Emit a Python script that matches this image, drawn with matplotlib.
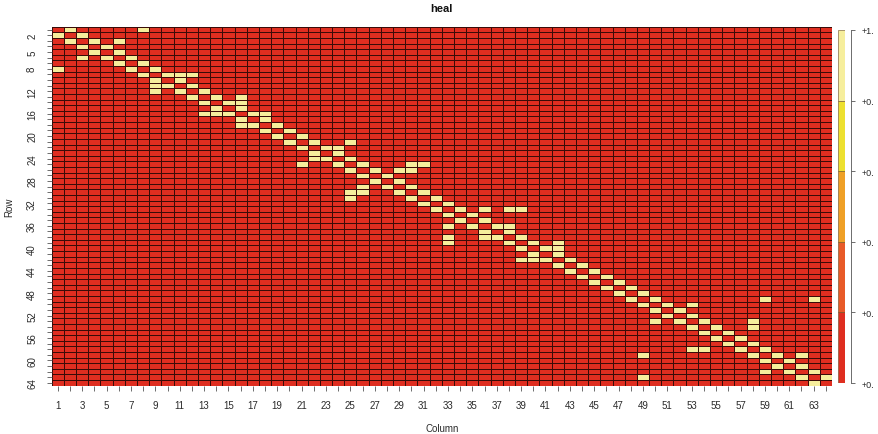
import matplotlib
matplotlib.use("Agg")
import matplotlib.pyplot as plt
import numpy as np
from matplotlib.colors import ListedColormap, BoundaryNorm

plt.rcParams['font.family'] = ['Liberation Sans', 'DejaVu Sans']

# adjacency of the "heal" graph: for each row, the columns holding a 1
neighbours = [
    [2, 8], [1, 3], [2, 4, 6], [3, 5], [4, 6], [3, 5, 7], [6, 8], [1, 7, 9],
    [8, 10, 11, 12], [9, 11], [9, 10, 12], [9, 11, 13], [12, 14, 16],
    [13, 15, 16], [14, 16], [13, 14, 15, 17, 18], [16, 18], [16, 17, 19],
    [18, 20], [19, 21], [20, 22, 25], [21, 23, 24], [22, 24], [22, 23, 25],
    [21, 24, 26, 30, 31], [25, 27, 29, 30], [26, 28], [27, 29], [26, 28, 30],
    [25, 26, 29, 31], [25, 30, 32], [31, 33], [32, 34, 36, 38, 39], [33, 35],
    [34, 36], [33, 35, 37, 38], [36, 38], [33, 36, 37, 39], [33, 38, 40, 42],
    [39, 41, 42], [40, 42], [39, 40, 41, 43], [42, 44], [43, 45], [44, 46],
    [45, 47], [46, 48], [47, 49], [48, 50, 59, 63], [49, 51, 53], [50, 52],
    [51, 53], [50, 52, 54, 58], [53, 55, 58], [54, 56], [55, 57], [56, 58],
    [53, 54, 57, 59], [49, 58, 60, 62], [59, 61], [60, 62], [59, 61, 63],
    [49, 62, 64], [63],
]
row_labels = [2, 5, 8, 12, 16, 20, 24, 28, 32, 36, 40, 44, 48, 52, 56, 60, 64]
col_labels = list(range(1, 64, 2))
key_breaks = [0, 0.2, 0.4, 0.6, 0.8, 1.0]
key_text = ['+0.', '+0.', '+0.', '+0.', '+0.', '+1.']

n = len(neighbours)
mat = np.zeros((n, n))
for r, cols in enumerate(neighbours):
    for c in cols:
        mat[r, c - 1] = 1

band_colors = ['#df2e20', '#e85a28', '#efa026', '#ede02f', '#f6ee9c']
cmap = ListedColormap(band_colors)
norm = BoundaryNorm(key_breaks, cmap.N)

fig = plt.figure(figsize=(8.79, 4.35), dpi=100)
ax = fig.add_axes([0.0588, 0.111, 0.8877, 0.8253])

edges = np.arange(0.5, n + 1, 1)
ax.pcolormesh(edges, edges, mat, cmap=cmap, norm=norm,
              edgecolors='#3a0c08', linewidth=0.7)
ax.set_xlim(0.5, n + 0.5)
ax.set_ylim(n + 0.5, 0.5)

txt = '#2a2a2a'
ax.set_xticks(np.arange(1, n + 1))
ax.set_xticklabels([str(i) if i in col_labels else '' for i in range(1, n + 1)])
ax.set_yticks(np.arange(1, n + 1))
ax.set_yticklabels([str(i) if i in row_labels else '' for i in range(1, n + 1)],
                   rotation=90, va='center')
ax.tick_params(axis='both', labelsize=7, colors='#555555', labelcolor=txt,
               length=3.5, width=0.6, pad=7)
for s in ax.spines.values():
    s.set_visible(False)

ax.set_title('heal', fontsize=8, fontweight='bold', color='#111111', pad=11)
ax.set_xlabel('Column', fontsize=7, color=txt, labelpad=9)
ax.set_ylabel('Row', fontsize=7, color=txt, labelpad=9)

# colour key on the right
kax = fig.add_axes([0.953, 0.117, 0.0083, 0.812])
for lo, hi, col in zip(key_breaks[:-1], key_breaks[1:], band_colors):
    kax.bar(0.5, hi - lo, bottom=lo, width=1, color=col,
            edgecolor='#6a4a20', linewidth=0.4)
kax.set_xlim(0, 1)
kax.set_ylim(0, 1)
kax.set_xticks([])
kax.yaxis.tick_right()
kax.set_yticks(key_breaks)
kax.set_yticklabels(key_text)
kax.tick_params(axis='y', labelsize=6.5, labelcolor=txt, colors='#555555',
                length=3, width=0.6, pad=5)
for side in ['left', 'top', 'bottom']:
    kax.spines[side].set_visible(False)
kax.spines['right'].set_position(('outward', 4))
kax.spines['right'].set_color('#555555')
kax.spines['right'].set_linewidth(0.6)

fig.savefig('out.png', dpi=100)
